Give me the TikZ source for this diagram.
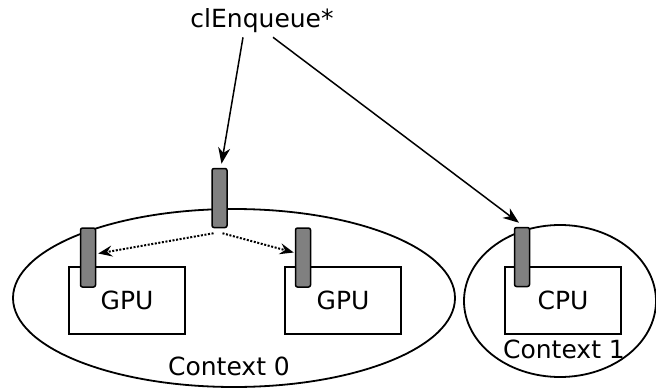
\documentclass[tikz,border=0pt]{standalone}
\usepackage{fontspec}
\setmainfont{DejaVu Sans}
\usetikzlibrary{shapes.geometric,arrows.meta}
\begin{document}
\begin{tikzpicture}[x=1pt,y=-1pt,
  ctx/.style={draw,ellipse,line width=1.8pt,inner sep=0pt},
  dev/.style={draw,rectangle,line width=1.5pt,fill=white,inner sep=0pt,minimum width=116pt,minimum height=67pt,font=\fontsize{25pt}{28pt}\selectfont},
  queue/.style={draw,rectangle,rounded corners=2pt,line width=1.5pt,fill=black!50,inner sep=0pt,minimum width=15pt,minimum height=59pt},
  lbl/.style={inner sep=0pt,font=\fontsize{25pt}{28pt}\selectfont},
  arr/.style={line width=1.5pt,-{Stealth[length=16pt,width=12pt,inset=5pt]}},
  darr/.style={line width=2pt,dash pattern=on 2pt off 1.6pt,-{Stealth[length=14pt,width=11pt,inset=5pt]}}]
\useasboundingbox (0,0) rectangle (656,388);
% contexts
\node[ctx,minimum width=442pt,minimum height=178pt] (ctx0) at (234,298) {};
\node[ctx,minimum width=192pt,minimum height=152pt] (ctx1) at (560,301) {};
\node[lbl] (ctx0lbl) at (229,366) {Context 0};
% devices
\node[dev] (gpu1) at (127,300.5) {GPU};
\node[dev] (gpu2) at (343,300.5) {GPU};
\node[dev] (cpu) at (563,300.5) {CPU};
\node[lbl] (ctx1lbl) at (564,349) {Context 1};
% queues
\node[queue] (q0) at (219.5,198) {};
\node[queue] (q1) at (88,257.5) {};
\node[queue] (q2) at (303,257.5) {};
\node[queue] (q3) at (522,257) {};
% title
\node[lbl] (title) at (262,21) {clEnqueue*};
% arrows
\draw[arr] ([xshift=-19pt,yshift=-4pt]title.south) -- ([xshift=2pt,yshift=4pt]q0.north);
\draw[arr] ([xshift=11pt,yshift=-4pt]title.south) -- ([xshift=-3pt,yshift=4pt]q3.north);
\draw[darr] ([xshift=-6pt,yshift=-5pt]q0.south) -- ([xshift=2pt,yshift=4pt]q1.east);
\draw[darr] ([xshift=3pt,yshift=-5pt]q0.south) -- ([xshift=-1pt,yshift=5pt]q2.west);
\end{tikzpicture}
\end{document}
